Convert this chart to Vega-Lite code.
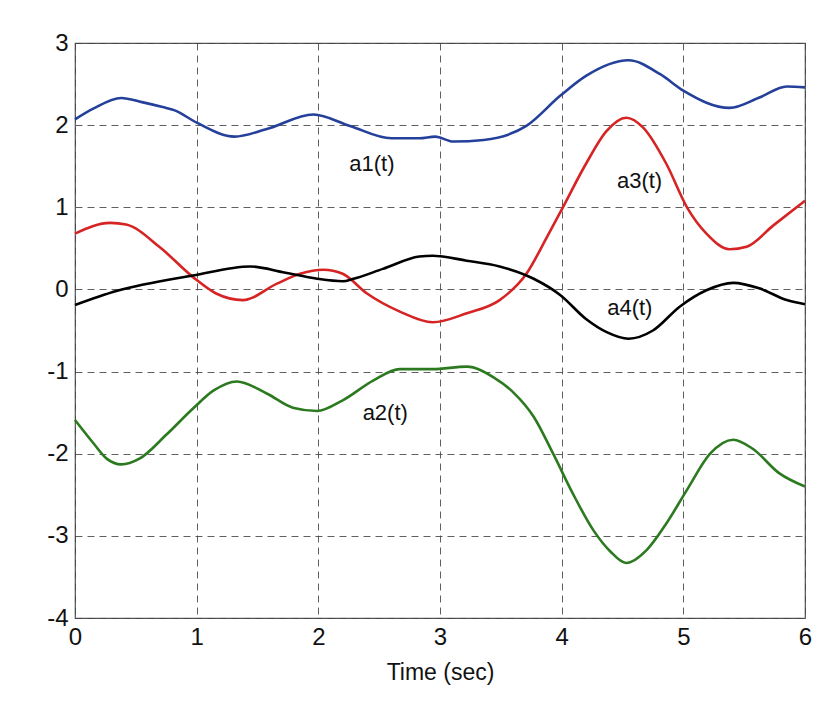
{
  "$schema": "https://vega.github.io/schema/vega-lite/v6.json",
  "autosize": {"type": "none"},
  "padding": {"left": 75, "top": 43, "right": 27, "bottom": 88},
  "width": 730,
  "height": 575,
  "background": "white",
  "config": {
    "view": {"stroke": "#555555", "strokeWidth": 1.2},
    "font": "Liberation Sans",
    "axis": {
      "labelFont": "Liberation Sans",
      "titleFont": "Liberation Sans",
      "labelFontSize": 24,
      "titleFontSize": 23,
      "labelColor": "#111111",
      "titleColor": "#111111",
      "titleFontWeight": "normal",
      "grid": true,
      "gridColor": "#444444",
      "gridDash": [7, 5],
      "gridWidth": 1,
      "gridOpacity": 0.85,
      "domain": false,
      "ticks": false,
      "labelExpr": "'' + datum.value"
    }
  },
  "datasets": {
    "curves": [
      {"t": 0.0, "v": 2.07, "s": "a1"},
      {"t": 0.15, "v": 2.2, "s": "a1"},
      {"t": 0.38, "v": 2.33, "s": "a1"},
      {"t": 0.55, "v": 2.28, "s": "a1"},
      {"t": 0.72, "v": 2.22, "s": "a1"},
      {"t": 0.82, "v": 2.18, "s": "a1"},
      {"t": 1.0, "v": 2.03, "s": "a1"},
      {"t": 1.31, "v": 1.86, "s": "a1"},
      {"t": 1.57, "v": 1.95, "s": "a1"},
      {"t": 1.96, "v": 2.13, "s": "a1"},
      {"t": 2.26, "v": 1.99, "s": "a1"},
      {"t": 2.6, "v": 1.84, "s": "a1"},
      {"t": 2.83, "v": 1.84, "s": "a1"},
      {"t": 2.96, "v": 1.86, "s": "a1"},
      {"t": 3.11, "v": 1.8, "s": "a1"},
      {"t": 3.36, "v": 1.82, "s": "a1"},
      {"t": 3.71, "v": 1.99, "s": "a1"},
      {"t": 3.99, "v": 2.36, "s": "a1"},
      {"t": 4.2, "v": 2.6, "s": "a1"},
      {"t": 4.55, "v": 2.79, "s": "a1"},
      {"t": 4.81, "v": 2.62, "s": "a1"},
      {"t": 5.0, "v": 2.42, "s": "a1"},
      {"t": 5.38, "v": 2.21, "s": "a1"},
      {"t": 5.63, "v": 2.34, "s": "a1"},
      {"t": 5.85, "v": 2.47, "s": "a1"},
      {"t": 6.0, "v": 2.46, "s": "a1"},

      {"t": 0.0, "v": 0.68, "s": "a3"},
      {"t": 0.29, "v": 0.81, "s": "a3"},
      {"t": 0.42, "v": 0.79, "s": "a3"},
      {"t": 0.7, "v": 0.51, "s": "a3"},
      {"t": 0.97, "v": 0.15, "s": "a3"},
      {"t": 1.16, "v": -0.05, "s": "a3"},
      {"t": 1.38, "v": -0.13, "s": "a3"},
      {"t": 1.66, "v": 0.07, "s": "a3"},
      {"t": 1.85, "v": 0.19, "s": "a3"},
      {"t": 2.04, "v": 0.24, "s": "a3"},
      {"t": 2.2, "v": 0.19, "s": "a3"},
      {"t": 2.4, "v": -0.05, "s": "a3"},
      {"t": 2.67, "v": -0.27, "s": "a3"},
      {"t": 2.94, "v": -0.4, "s": "a3"},
      {"t": 3.22, "v": -0.29, "s": "a3"},
      {"t": 3.49, "v": -0.13, "s": "a3"},
      {"t": 3.71, "v": 0.19, "s": "a3"},
      {"t": 3.88, "v": 0.64, "s": "a3"},
      {"t": 4.01, "v": 1.0, "s": "a3"},
      {"t": 4.2, "v": 1.53, "s": "a3"},
      {"t": 4.37, "v": 1.93, "s": "a3"},
      {"t": 4.53, "v": 2.09, "s": "a3"},
      {"t": 4.67, "v": 1.97, "s": "a3"},
      {"t": 4.86, "v": 1.53, "s": "a3"},
      {"t": 5.03, "v": 1.0, "s": "a3"},
      {"t": 5.19, "v": 0.68, "s": "a3"},
      {"t": 5.38, "v": 0.49, "s": "a3"},
      {"t": 5.52, "v": 0.52, "s": "a3"},
      {"t": 5.74, "v": 0.78, "s": "a3"},
      {"t": 6.0, "v": 1.08, "s": "a3"},

      {"t": 0.0, "v": -0.19, "s": "a4"},
      {"t": 0.34, "v": -0.02, "s": "a4"},
      {"t": 0.97, "v": 0.17, "s": "a4"},
      {"t": 1.44, "v": 0.28, "s": "a4"},
      {"t": 1.71, "v": 0.21, "s": "a4"},
      {"t": 1.99, "v": 0.13, "s": "a4"},
      {"t": 2.2, "v": 0.1, "s": "a4"},
      {"t": 2.29, "v": 0.13, "s": "a4"},
      {"t": 2.53, "v": 0.25, "s": "a4"},
      {"t": 2.83, "v": 0.4, "s": "a4"},
      {"t": 2.94, "v": 0.41, "s": "a4"},
      {"t": 3.22, "v": 0.35, "s": "a4"},
      {"t": 3.49, "v": 0.28, "s": "a4"},
      {"t": 3.77, "v": 0.13, "s": "a4"},
      {"t": 3.99, "v": -0.07, "s": "a4"},
      {"t": 4.2, "v": -0.36, "s": "a4"},
      {"t": 4.37, "v": -0.52, "s": "a4"},
      {"t": 4.55, "v": -0.6, "s": "a4"},
      {"t": 4.75, "v": -0.5, "s": "a4"},
      {"t": 4.97, "v": -0.21, "s": "a4"},
      {"t": 5.19, "v": -0.01, "s": "a4"},
      {"t": 5.41, "v": 0.08, "s": "a4"},
      {"t": 5.63, "v": 0.01, "s": "a4"},
      {"t": 5.85, "v": -0.13, "s": "a4"},
      {"t": 6.0, "v": -0.18, "s": "a4"},

      {"t": 0.0, "v": -1.59, "s": "a2"},
      {"t": 0.15, "v": -1.87, "s": "a2"},
      {"t": 0.26, "v": -2.06, "s": "a2"},
      {"t": 0.38, "v": -2.13, "s": "a2"},
      {"t": 0.53, "v": -2.06, "s": "a2"},
      {"t": 0.75, "v": -1.77, "s": "a2"},
      {"t": 0.97, "v": -1.45, "s": "a2"},
      {"t": 1.14, "v": -1.23, "s": "a2"},
      {"t": 1.33, "v": -1.12, "s": "a2"},
      {"t": 1.58, "v": -1.27, "s": "a2"},
      {"t": 1.79, "v": -1.44, "s": "a2"},
      {"t": 1.99, "v": -1.48, "s": "a2"},
      {"t": 2.2, "v": -1.35, "s": "a2"},
      {"t": 2.45, "v": -1.11, "s": "a2"},
      {"t": 2.67, "v": -0.97, "s": "a2"},
      {"t": 2.94, "v": -0.97, "s": "a2"},
      {"t": 3.22, "v": -0.94, "s": "a2"},
      {"t": 3.44, "v": -1.07, "s": "a2"},
      {"t": 3.6, "v": -1.25, "s": "a2"},
      {"t": 3.77, "v": -1.55, "s": "a2"},
      {"t": 3.93, "v": -2.0, "s": "a2"},
      {"t": 4.09, "v": -2.48, "s": "a2"},
      {"t": 4.26, "v": -2.93, "s": "a2"},
      {"t": 4.4, "v": -3.19, "s": "a2"},
      {"t": 4.53, "v": -3.33, "s": "a2"},
      {"t": 4.7, "v": -3.17, "s": "a2"},
      {"t": 4.86, "v": -2.85, "s": "a2"},
      {"t": 5.03, "v": -2.44, "s": "a2"},
      {"t": 5.22, "v": -2.0, "s": "a2"},
      {"t": 5.41, "v": -1.83, "s": "a2"},
      {"t": 5.57, "v": -1.94, "s": "a2"},
      {"t": 5.79, "v": -2.24, "s": "a2"},
      {"t": 6.0, "v": -2.4, "s": "a2"}
    ],
    "labels": [
      {"t": 2.44, "v": 1.53, "label": "a1(t)"},
      {"t": 4.64, "v": 1.32, "label": "a3(t)"},
      {"t": 4.56, "v": -0.23, "label": "a4(t)"},
      {"t": 2.55, "v": -1.51, "label": "a2(t)"}
    ]
  },
  "layer": [
    {
      "data": {"name": "curves"},
      "mark": {"type": "line", "interpolate": "monotone", "strokeWidth": 2.6},
      "encoding": {
        "x": {
          "field": "t", "type": "quantitative",
          "scale": {"domain": [0, 6], "nice": false},
          "axis": {"values": [0, 1, 2, 3, 4, 5, 6], "title": "Time (sec)", "labelPadding": 7, "titlePadding": 12, "labelFlush": false}
        },
        "y": {
          "field": "v", "type": "quantitative",
          "scale": {"domain": [-4, 3], "nice": false},
          "axis": {"values": [-4, -3, -2, -1, 0, 1, 2, 3], "title": null, "labelPadding": 7, "labelFlush": false}
        },
        "color": {
          "field": "s", "type": "nominal",
          "scale": {"domain": ["a1", "a2", "a3", "a4"], "range": ["#24409a", "#2c7a1f", "#d62424", "#000000"]},
          "legend": null
        },
        "detail": {"field": "s"}
      }
    },
    {
      "data": {"name": "labels"},
      "mark": {"type": "text", "font": "Liberation Sans", "fontSize": 22, "color": "#111111", "align": "center", "baseline": "middle"},
      "encoding": {
        "x": {"field": "t", "type": "quantitative"},
        "y": {"field": "v", "type": "quantitative"},
        "text": {"field": "label"}
      }
    }
  ]
}
